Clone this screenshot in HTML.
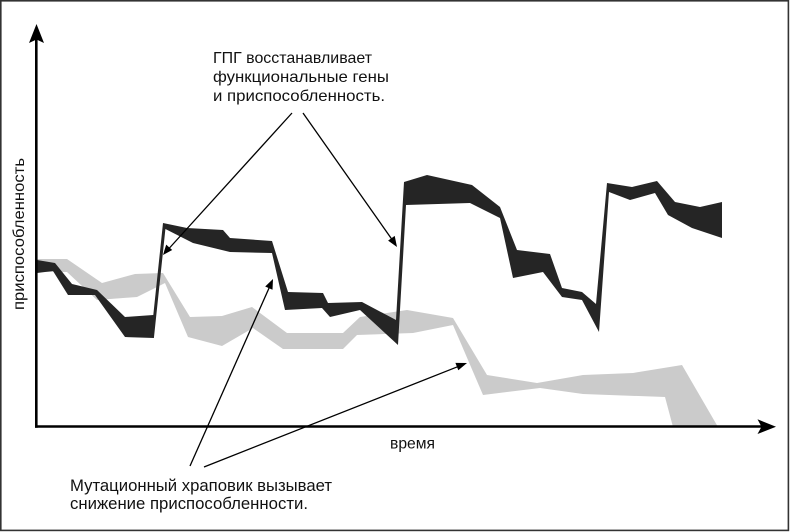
<!DOCTYPE html>
<html>
<head>
<meta charset="utf-8">
<style>
  html, body { margin: 0; padding: 0; background: #fff; }
  svg { display: block; }
  text { font-family: "Liberation Sans", "DejaVu Sans", sans-serif; fill: #111; }
</style>
</head>
<body>
<svg width="790" height="532" viewBox="0 0 790 532" xmlns="http://www.w3.org/2000/svg">
  <rect x="0" y="0" width="790" height="532" fill="#fff"/>
  <!-- frame -->
  <rect x="0.8" y="0.8" width="787.6" height="529.6" fill="none" stroke="#333" stroke-width="1.6"/>

  <!-- gray band -->
  <polygon fill="#cbcbcb" points="
    37,259 67,259 102,283 135,274 163,273 190,317 222,316 252,307 287,333 343,333 360,317 407,310 453,318 487,375 537,383 583,375 633,373 682,365 718,427
    673,427 665,397 583,394 540,388 483,395 453,325 413,333 357,335 343,349 283,349 253,328 222,346 188,337 165,283 137,297 97,300 67,272 37,272"/>

  <!-- black band -->
  <polygon fill="#252525" points="
    37,260 55,263 72,284 97,290 125,317 153.3,315 163,223 187,228 223,230 230,238 272,241 288,292 323,293 328,303 362,302 396,320 404,182 427,175 472,185 500,207 517,250 550,254 562,288 582,292 596,304 607,183 632,187 657,181 675,202 700,207 722,202 722,238
    692,228 668,215 655,193 630,200 609,192 599,332 582,300 562,297 543,272 513,278 500,218 470,203 406,205 398,345 360,310 330,317 322,308 285,310 272,253 230,252 193,243 165.4,229 153.9,338 125,337 95,295 68,295 53,271 37,273"/>

  <!-- axes -->
  <line x1="36.3" y1="38" x2="36.3" y2="427.7" stroke="#000" stroke-width="2.6"/>
  <polygon points="36.5,24 29,43 36.5,39.5 44,43" fill="#000"/>
  <line x1="35" y1="426.5" x2="762" y2="426.5" stroke="#000" stroke-width="2.6"/>
  <polygon points="776,426.7 757.5,419.3 761.5,426.7 757.5,434" fill="#000"/>

  <!-- annotation lines -->
  <g stroke="#000" stroke-width="1.3" fill="none">
    <line x1="292" y1="113" x2="169" y2="248.5"/>
    <line x1="303" y1="113" x2="392" y2="239.5"/>
    <line x1="190" y1="466" x2="269.5" y2="287"/>
    <line x1="204" y1="467" x2="459" y2="366.2"/>
  </g>
  <g fill="#000">
    <!-- arrowheads -->
    <polygon points="163,255 166.2,244.6 172.2,250"/>
    <polygon points="397,247 388.1,240.6 394.7,235.9"/>
    <polygon points="273,279 272.5,289.8 265.2,286.5"/>
    <polygon points="467,363 458.3,370.3 455.4,362.9"/>
  </g>

  <!-- texts -->
  <text x="213" y="63" font-size="16" textLength="159" lengthAdjust="spacingAndGlyphs">ГПГ восстанавливает</text>
  <text x="213" y="82" font-size="16" textLength="176" lengthAdjust="spacingAndGlyphs">функциональные гены</text>
  <text x="213" y="101" font-size="16" textLength="172" lengthAdjust="spacingAndGlyphs">и приспособленность.</text>

  <text x="70" y="491" font-size="17" textLength="262" lengthAdjust="spacingAndGlyphs">Мутационный храповик вызывает</text>
  <text x="70" y="509" font-size="17" textLength="238" lengthAdjust="spacingAndGlyphs">снижение приспособленности.</text>

  <text x="390" y="448.5" font-size="16" textLength="45" lengthAdjust="spacingAndGlyphs">время</text>

  <text transform="translate(24,310) rotate(-90)" x="0" y="0" font-size="16" textLength="152" lengthAdjust="spacingAndGlyphs">приспособленность</text>
</svg>
</body>
</html>
